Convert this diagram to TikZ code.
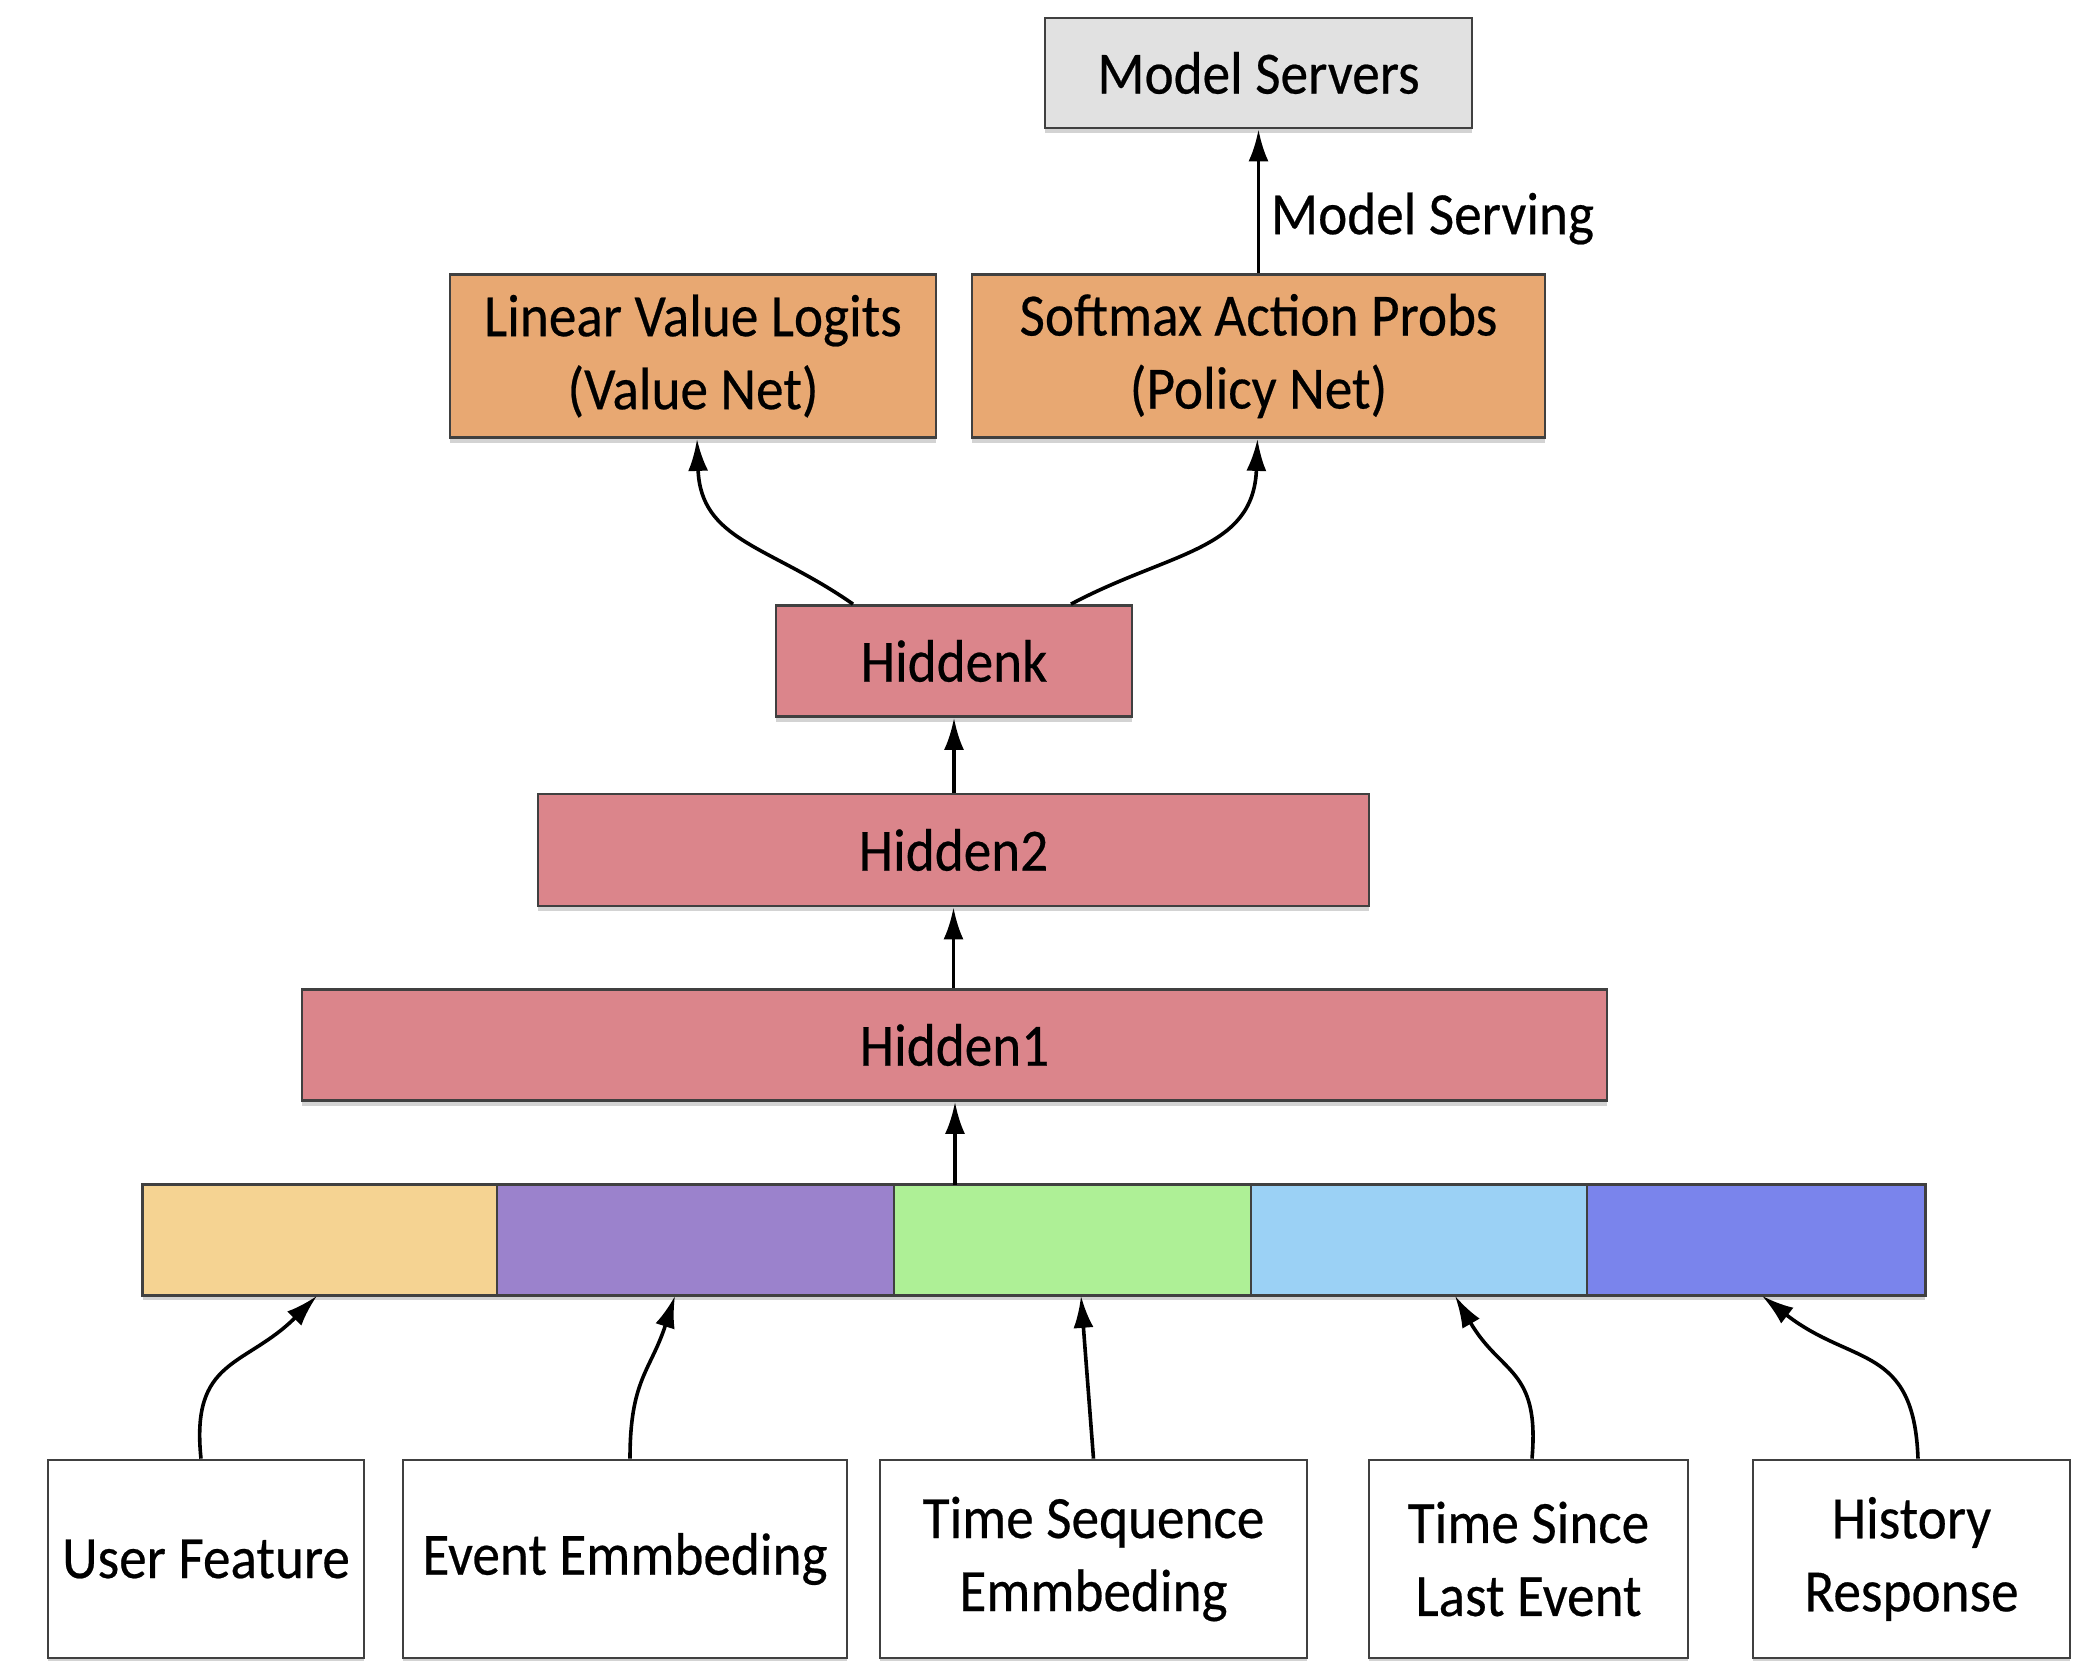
\documentclass[tikz,border=0pt]{standalone}
\usepackage{fontspec}
\setmainfont{Carlito}[FakeStretch=0.92, FakeBold=0.4]
\usetikzlibrary{arrows.meta,shadows}

\definecolor{edgegray}{HTML}{404040}
\definecolor{serverfill}{HTML}{E1E1E1}
\definecolor{headfill}{HTML}{E8A872}
\definecolor{hiddenfill}{HTML}{DB858B}
\definecolor{segA}{HTML}{F5D392}
\definecolor{segB}{HTML}{9B82CC}
\definecolor{segC}{HTML}{AEF096}
\definecolor{segD}{HTML}{9BD1F5}
\definecolor{segE}{HTML}{7A84EC}

\tikzset{
  softshadow/.style={drop shadow={shadow xshift=0pt, shadow yshift=-2.5pt, opacity=0.35}},
  box/.style={draw=edgegray, line width=1.4pt, inner sep=0pt, align=center,
    font=\fontsize{30}{36.5}\selectfont, softshadow},
  seg/.style={draw=edgegray, line width=0.8pt, inner sep=0pt,
    minimum height=55pt},
  flow/.style={-{Latex[length=16pt,width=10pt]}, line width=1.8pt, black},
}

\begin{document}
\begin{tikzpicture}[x=0.5pt, y=-0.5pt]
\useasboundingbox (0,0) rectangle (2074,1661);

% serving target
\node[box, fill=serverfill, minimum width=213.5pt, minimum height=55pt]
  (srv) at (1258.5,73) {Model Servers};

% output heads
\node[box, fill=headfill, minimum width=243pt, minimum height=81.5pt]
  (value) at (693,356) {Linear Value Logits\\(Value Net)};
\node[box, fill=headfill, minimum width=286.5pt, minimum height=81.5pt]
  (policy) at (1258.5,356) {Softmax Action Probs\\(Policy Net)};

% hidden layers
\node[box, fill=hiddenfill, minimum width=178pt, minimum height=55.5pt]
  (hk) at (954,661) {Hiddenk};
\node[box, fill=hiddenfill, minimum width=415.5pt, minimum height=56pt]
  (h2) at (953.5,850) {Hidden2};
\node[box, fill=hiddenfill, minimum width=652.5pt, minimum height=55.5pt]
  (h1) at (954.5,1045) {Hidden1};

% concatenated input vector: shadow behind, segments, then outline
\fill[white, softshadow] (143,1185) rectangle (1925,1295);
\node[seg, fill=segA, minimum width=177pt]   (s1) at (320,1240)   {};
\node[seg, fill=segB, minimum width=198.5pt] (s2) at (695.5,1240) {};
\node[seg, fill=segC, minimum width=178.5pt] (s3) at (1072.5,1240) {};
\node[seg, fill=segD, minimum width=168pt]   (s4) at (1419,1240)  {};
\node[seg, fill=segE, minimum width=169pt]   (s5) at (1756,1240)  {};
\draw[draw=edgegray, line width=1.4pt] (s1.north west) rectangle (s5.south east);
\coordinate (vecTop) at (955,1185);

% input features
\node[box, fill=white, minimum width=158pt, minimum height=99pt]
  (uf) at (206,1559) {User Feature};
\node[box, fill=white, minimum width=222pt, minimum height=99pt]
  (ev) at (625,1559) {Event Emmbeding};
\node[box, fill=white, minimum width=213.5pt, minimum height=99pt]
  (ts) at (1093.5,1559) {Time Sequence\\Emmbeding};
\node[box, fill=white, minimum width=159.5pt, minimum height=99pt]
  (tl) at (1528.5,1559) {Time Since\\Last Event};
\node[box, fill=white, minimum width=158.5pt, minimum height=99pt]
  (hr) at (1911.5,1559) {History\\Response};

% connectors between layers
\draw[flow] (policy.north) -- (srv.south)
  node[pos=0.38, right, xshift=2pt, font=\fontsize{30}{36}\selectfont] {Model Serving};
\draw[flow] ([xshift=-50.5pt]hk.north) to[out=145, in=-88, looseness=1.15] ([xshift=2pt]value.south);
\draw[flow] ([xshift=58.5pt]hk.north) to[out=28, in=-92, looseness=1.15] ([xshift=-0.5pt]policy.south);
\draw[flow] (h2.north -| hk.south) -- (hk.south);
\draw[flow] (h1.north -| h2.south) -- (h2.south);
\draw[flow] (vecTop) -- (h1.south -| vecTop);

% input features into the vector
\draw[flow] ([xshift=-2.5pt]uf.north) to[out=96, in=-135, looseness=1.3] ([xshift=-1.5pt]s1.south);
\draw[flow] ([xshift=2.5pt]ev.north) to[out=90, in=-108, looseness=1.2] ([xshift=-10.25pt]s2.south);
\draw[flow] (ts.north) -- ([xshift=4.25pt]s3.south);
\draw[flow] ([xshift=1.75pt]tl.north) to[out=85, in=-60, looseness=1.3] ([xshift=18pt]s4.south);
\draw[flow] ([xshift=3.25pt]hr.north) to[out=92, in=-38, looseness=1.3] ([xshift=3pt]s5.south);
\end{tikzpicture}
\end{document}
